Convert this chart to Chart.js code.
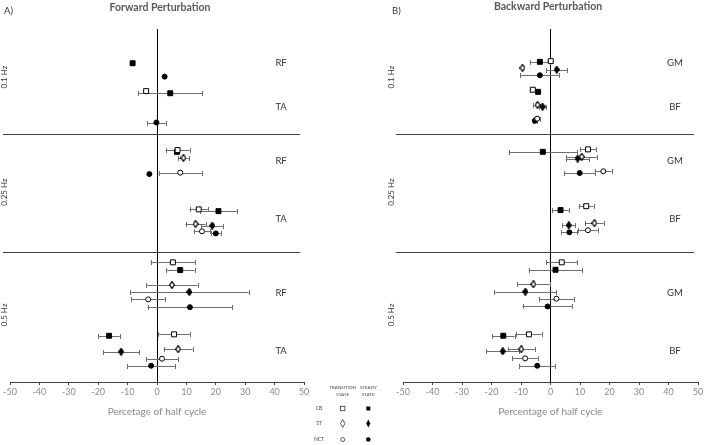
<!DOCTYPE html>
<html><head><meta charset="utf-8">
<script src="https://cdn.jsdelivr.net/npm/chart.js@4"></script>
<style>
html,body{margin:0;padding:0;background:#fff;width:709px;height:445px;overflow:hidden;font-family:Lato,"Liberation Sans",sans-serif}
canvas.c{position:absolute;top:0}
.t{position:absolute;white-space:nowrap;line-height:1}
</style></head><body>
<canvas id="fwd" class="c" style="left:0px" width="354" height="445"></canvas>
<canvas id="bwd" class="c" style="left:355px" width="354" height="445"></canvas>
<div class="t" style="left:4px;top:6px;font-size:9.5px;color:#333">A)</div>
<div class="t" style="left:160px;top:2px;transform:translateX(-50%);font-size:10.5px;font-weight:bold;color:#595959">Forward Perturbation</div>
<div class="t" style="left:392px;top:6px;font-size:9.5px;color:#333">B)</div>
<div class="t" style="left:548px;top:1px;transform:translateX(-50%);font-size:10.5px;font-weight:bold;color:#595959">Backward Perturbation</div>
<svg id="legend" style="position:absolute;left:0;top:0" width="709" height="445"></svg>
<script>
// ---------------- data ----------------
const xTicks = [-50, -40, -30, -20, -10, 0, 10, 20, 30, 40, 50];
const frequencies = ['0.1 Hz', '0.25 Hz', '0.5 Hz'];
const frequencyRowY = [13.6, 46.2, 81.0];
const groupBoundaryY = [29.7, 63.2];
const forwardMuscles = ['RF', 'TA', 'RF', 'TA', 'RF', 'TA'];
const backwardMuscles = ['GM', 'BF', 'GM', 'BF', 'GM', 'BF'];
const muscleRowY = [9.6, 22.1, 37.4, 53.7, 74.7, 91.2];
const legendRows = ['CB', 'ST', 'NCT'];
const legendCols = [['TRANSITION', 'STATE'], ['STEADY', 'STATE']];

// each entry: [row position, mean (% of half cycle), SD]
const fwdCB_transition = [[17.6, -3.7, 0], [34.3, 7.0, 4.1], [51.1, 14.2, 3.1], [66.1, 5.4, 7.6], [86.5, 5.8, 5.4]];
const fwdCB_steady = [[9.7, -8.3, 0], [18.2, 4.5, 10.8], [34.8, 6.8, 0], [51.6, 20.9, 6.3], [68.3, 7.9, 4.9], [86.9, -16.3, 3.6]];
const fwdST_transition = [[36.5, 9.0, 1.8], [55.2, 13.1, 3.4], [72.5, 5.1, 8.7], [90.7, 7.2, 4.9]];
const fwdST_steady = [[55.7, 18.8, 3.8], [74.5, 11.0, 20.2], [91.4, -12.2, 6.1]];
const fwdNCT_transition = [[40.7, 7.9, 7.3], [57.3, 15.3, 2.8], [76.6, -3.0, 5.7], [93.4, 1.7, 5.5]];
const fwdNCT_steady = [[13.5, 2.6, 0], [26.5, -0.2, 3.2], [41.1, -2.6, 0], [57.9, 20.0, 1.7], [78.8, 11.2, 14.4], [95.4, -2.0, 8.1]];

const bwdCB_transition = [[9.1, 0.1, 0], [17.2, -6.0, 0.8], [34.1, 12.7, 2.8], [50.2, 12.1, 2.5], [66.1, 3.8, 5.3], [86.5, -7.3, 4.3]];
const bwdCB_steady = [[9.3, -3.6, 3.4], [17.8, -4.2, 0], [34.8, -2.6, 11.6], [51.3, 3.4, 3.0], [68.2, 1.7, 9.1], [86.9, -16.0, 3.8]];
const bwdST_transition = [[11.0, -9.5, 0], [21.5, -4.4, 1.5], [36.2, 10.6, 5.3], [55.0, 14.9, 3.1], [72.3, -5.8, 5.5], [90.7, -9.9, 4.6]];
const bwdST_steady = [[11.5, 2.1, 3.6], [22.0, -2.7, 1.3], [36.7, 9.2, 4.0], [55.6, 6.2, 2.2], [74.4, -8.5, 10.5], [91.3, -16.2, 5.5]];
const bwdNCT_transition = [[25.4, -4.5, 1.0], [40.3, 17.9, 2.9], [57.0, 12.7, 3.5], [76.4, 2.0, 5.9], [93.3, -8.6, 4.3]];
const bwdNCT_steady = [[13.1, -3.6, 6.6], [26.0, -5.3, 0.8], [40.8, 9.9, 5.3], [57.6, 6.4, 2.7], [78.6, -1.0, 8.4], [95.4, -4.5, 6.1]];

// ---------------- styling helpers ----------------
function diamond(w, h, filled) {
  const c = document.createElement('canvas');
  c.width = w + 2; c.height = h + 2;
  const g = c.getContext('2d');
  g.beginPath();
  g.moveTo(c.width / 2, 0.6); g.lineTo(c.width - 0.6, c.height / 2);
  g.lineTo(c.width / 2, c.height - 0.6); g.lineTo(0.6, c.height / 2); g.closePath();
  g.fillStyle = filled ? '#000' : '#fff'; g.fill();
  g.lineWidth = 1.2; g.strokeStyle = '#000'; g.stroke();
  return c;
}
const openDiamond = diamond(4, 6, false);
const fullDiamond = diamond(4, 6, true);

function series(arr, style, filled, radius, order) {
  return {
    data: arr.map(r => ({ x: r[1], y: r[0], e: r[2] })),
    pointStyle: style,
    pointRadius: radius,
    pointBackgroundColor: filled ? '#000' : '#fff',
    pointBorderColor: '#000',
    pointBorderWidth: 1,
    showLine: false,
    order: order
  };
}

const errorBars = {
  id: 'errorBars',
  beforeDatasetsDraw(chart) {
    const { ctx, scales: { x, y } } = chart;
    ctx.save();
    ctx.strokeStyle = '#6e6e6e';
    ctx.lineWidth = 1;
    chart.data.datasets.forEach(ds => {
      ds.data.forEach(p => {
        if (!p.e) return;
        const py = Math.round(y.getPixelForValue(p.y)) + 0.5;
        const x1 = x.getPixelForValue(p.x - p.e), x2 = x.getPixelForValue(p.x + p.e);
        ctx.beginPath();
        ctx.moveTo(x1, py); ctx.lineTo(x2, py);
        ctx.moveTo(Math.round(x1) + 0.5, py - 2.5); ctx.lineTo(Math.round(x1) + 0.5, py + 2.5);
        ctx.moveTo(Math.round(x2) + 0.5, py - 2.5); ctx.lineTo(Math.round(x2) + 0.5, py + 2.5);
        ctx.stroke();
      });
    });
    ctx.restore();
  }
};

const decorations = {
  id: 'decorations',
  afterDatasetsDraw(chart, args, opts) {
    const { ctx, chartArea, scales: { x, y } } = chart;
    ctx.save();
    // group separators
    ctx.strokeStyle = '#404040'; ctx.lineWidth = 1;
    groupBoundaryY.forEach(v => {
      const py = Math.round(y.getPixelForValue(v)) + 0.5;
      ctx.beginPath();
      ctx.moveTo(chartArea.left - 7, py); ctx.lineTo(chartArea.right - 4, py);
      ctx.stroke();
    });
    // muscle labels
    ctx.fillStyle = '#333';
    ctx.font = '9.5px Lato, sans-serif';
    ctx.textAlign = 'center'; ctx.textBaseline = 'middle';
    opts.muscles.forEach((m, i) => {
      ctx.fillText(m, x.getPixelForValue(42.2), y.getPixelForValue(muscleRowY[i]));
    });
    // frequency labels
    ctx.font = '8px Lato, sans-serif';
    frequencies.forEach((f, i) => {
      ctx.save();
      ctx.translate(chartArea.left - opts.freqOffset, y.getPixelForValue(frequencyRowY[i]));
      ctx.rotate(-Math.PI / 2);
      ctx.fillText(f, 0, 0);
      ctx.restore();
    });
    ctx.restore();
  }
};

function makeChart(id, sets, muscles, title, padL, padR, freqOffset) {
  return new Chart(document.getElementById(id), {
    type: 'scatter',
    data: {
      datasets: [
        series(sets[1], 'rect', true, 3.5, 1),
        series(sets[0], 'rect', false, 3.5, 0),
        series(sets[3], fullDiamond, true, 3, 1),
        series(sets[2], openDiamond, false, 3, 0),
        series(sets[5], 'circle', true, 2.5, 1),
        series(sets[4], 'circle', false, 2.5, 0)
      ]
    },
    options: {
      responsive: false,
      animation: false,
      events: [],
      layout: { padding: { left: padL, right: padR, top: 29, bottom: 0 } },
      plugins: {
        legend: { display: false },
        tooltip: { enabled: false },
        decorations: { muscles: muscles, freqOffset: freqOffset }
      },
      scales: {
        x: {
          type: 'linear', min: -50, max: 50,
          afterBuildTicks: s => { s.ticks = xTicks.map(v => ({ value: v })); },
          afterFit: s => { s.height = 63; },
          border: { display: true, color: '#404040', width: 1 },
          grid: {
            color: c => (c.tick && c.tick.value === 0) ? '#000' : 'rgba(0,0,0,0)',
            lineWidth: 1,
            tickColor: '#404040',
            tickLength: 3,
            drawOnChartArea: true
          },
          ticks: { color: '#8a8a8a', font: { size: 9, family: 'Lato' }, padding: 2, maxRotation: 0 },
          title: {
            display: true, text: title, color: '#8a8a8a',
            font: { size: 10, family: 'Lato' }, padding: { top: 0, bottom: 27 }
          }
        },
        y: { type: 'linear', min: 0, max: 100, reverse: true, display: false }
      }
    },
    plugins: [errorBars, decorations]
  });
}

makeChart('fwd', [fwdCB_transition, fwdCB_steady, fwdST_transition, fwdST_steady, fwdNCT_transition, fwdNCT_steady],
  forwardMuscles, 'Percetage of half cycle', 10, 50, 5.5);
makeChart('bwd', [bwdCB_transition, bwdCB_steady, bwdST_transition, bwdST_steady, bwdNCT_transition, bwdNCT_steady],
  backwardMuscles, 'Percentage of half cycle', 48, 11, 12);

// ---------------- legend (key) ----------------
(function () {
  const svg = document.getElementById('legend');
  const NS = 'http://www.w3.org/2000/svg';
  function el(name, attrs, text) {
    const e = document.createElementNS(NS, name);
    for (const k in attrs) e.setAttribute(k, attrs[k]);
    if (text) e.textContent = text;
    svg.appendChild(e);
    return e;
  }
  const colX = [342.7, 368.3];
  const rowY = [408.5, 423.5, 439.5];
  const tf = { 'font-family': 'Lato, sans-serif', 'font-size': 4.5, fill: '#444', 'text-anchor': 'middle' };
  legendCols.forEach((lines, c) => {
    lines.forEach((l, k) => el('text', Object.assign({ x: colX[c], y: 389 + k * 6.5 }, tf), l));
  });
  legendRows.forEach((r, i) => el('text', Object.assign({ x: 319, y: rowY[i] + 1.8 }, tf, { 'font-size': 5 }), r));
  // CB
  el('rect', { x: colX[0] - 2.2, y: rowY[0] - 2.2, width: 4.4, height: 4.4, fill: '#fff', stroke: '#333', 'stroke-width': 0.8 });
  el('rect', { x: colX[1] - 2, y: rowY[0] - 2, width: 4, height: 4, fill: '#000' });
  // ST
  el('polygon', { points: `${colX[0]},${rowY[1] - 4} ${colX[0] + 2.2},${rowY[1]} ${colX[0]},${rowY[1] + 4} ${colX[0] - 2.2},${rowY[1]}`, fill: '#fff', stroke: '#333', 'stroke-width': 0.8 });
  el('polygon', { points: `${colX[1]},${rowY[1] - 4} ${colX[1] + 2},${rowY[1]} ${colX[1]},${rowY[1] + 4} ${colX[1] - 2},${rowY[1]}`, fill: '#000' });
  // NCT
  el('circle', { cx: colX[0], cy: rowY[2], r: 2, fill: '#fff', stroke: '#333', 'stroke-width': 0.8 });
  el('circle', { cx: colX[1], cy: rowY[2], r: 2.3, fill: '#000' });
})();
</script>
</body></html>
